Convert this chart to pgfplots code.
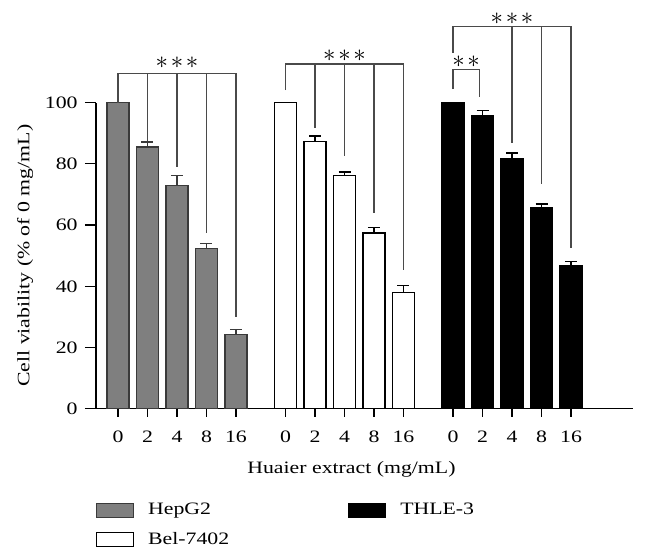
\documentclass[border=0pt]{standalone}
\usepackage{fontspec}
\setmainfont{Liberation Serif}[FakeStretch=1.25]
\usepackage{pgfplots}
\pgfplotsset{compat=1.18}
\definecolor{hepgray}{HTML}{7F7F7F}
\definecolor{hepedge}{HTML}{3A3A3A}
\definecolor{brk}{HTML}{4A4A4A}
\newcommand{\stars}[1]{{\fontsize{25}{25}\selectfont$#1$}}
\begin{document}
\fontsize{17.5}{21}\selectfont
\begin{tikzpicture}
\begin{axis}[
 scale only axis, width=537.2bp, height=306.3bp,
 xmin=-0.75, xmax=17.46, ymin=0, ymax=100,
 axis x line*=bottom, axis y line*=left,
 axis line style={line width=1.3bp, -},
 clip=false,
 xtick={0,1,2,3,4,5.68,6.68,7.68,8.68,9.68,11.36,12.36,13.36,14.36,15.36},
 xticklabels={0,2,4,8,16,0,2,4,8,16,0,2,4,8,16},
 ytick={0,20,...,100},
 tick align=outside,
 xtick style={line width=1.3bp, black, /pgfplots/major tick length=8bp},
 ytick style={line width=1.3bp, black, /pgfplots/major tick length=11bp},
 xticklabel style={yshift=-12bp},
 yticklabel style={xshift=-8bp},
 /pgf/number format/assume math mode=true,
 xlabel={Huaier extract (mg/mL)},
 xlabel style={yshift=-7bp, xshift=-13bp},
 ylabel={Cell viability (\% of 0 mg/mL)},
 ylabel shift=0bp,
 legend columns=2, transpose legend,
 legend style={draw=none, fill=none, inner sep=0pt, outer sep=0pt,
   at={(axis cs:-0.746,-30.7)}, anchor=north west,
   /tikz/column sep=14bp, /tikz/row sep=14bp,
   nodes={inner sep=0pt, text width=186bp, align=left}},
 legend image code/.code={\draw[#1,line width=1.2bp] (0bp,-7bp) rectangle (37bp,7bp);},
 error bars/y dir=plus, error bars/y explicit,
]
\addplot[ybar, bar shift=0pt, bar width=22bp, fill=hepgray, draw=hepedge, line width=1.2bp,
  error bars/error bar style={line width=1.3bp, hepedge},
  error bars/error mark options={rotate=90, mark size=6bp, line width=1.3bp, hepedge}]
 coordinates {(0,100) +- (0,0) (1,85.5) +- (0,1.6) (2,73.0) +- (0,3.1) (3,52.3) +- (0,1.7) (4,24.2) +- (0,1.6)};
\addlegendentry{HepG2}
\addplot[ybar, bar shift=0pt, bar width=22bp, fill=white, draw=black, line width=1.2bp,
  error bars/error bar style={line width=1.3bp, black},
  error bars/error mark options={rotate=90, mark size=6bp, line width=1.3bp, black}]
 coordinates {(5.68,100) +- (0,0) (6.68,87.4) +- (0,1.7) (7.68,76.1) +- (0,1.2) (8.68,57.4) +- (0,1.8) (9.68,38.0) +- (0,2.3)};
\addlegendentry{Bel-7402}
\addplot[ybar, bar shift=0pt, bar width=22bp, fill=black, draw=black, line width=1.2bp,
  error bars/error bar style={line width=1.3bp, black},
  error bars/error mark options={rotate=90, mark size=6bp, line width=1.3bp, black}]
 coordinates {(11.36,100) +- (0,0) (12.36,95.7) +- (0,1.7) (13.36,81.6) +- (0,1.9) (14.36,65.7) +- (0,1.2) (15.36,46.9) +- (0,1.3)};
\addlegendentry{THLE-3}
% significance brackets
\draw[brk, line width=1.2bp] (axis cs:0,100) -- (axis cs:0,109.6) -- (axis cs:4,109.6) -- (axis cs:4,30.1);
\draw[brk, line width=1.2bp] (axis cs:1,109.6) -- (axis cs:1,87.3);
\draw[brk, line width=1.2bp] (axis cs:2,109.6) -- (axis cs:2,79.1);
\draw[brk, line width=1.2bp] (axis cs:3,109.6) -- (axis cs:3,57.4);
\node at (axis cs:2,113.0) {\stars{{\ast}\mkern2mu{\ast}\mkern2mu{\ast}}};
\draw[brk, line width=1.2bp] (axis cs:5.68,104.1) -- (axis cs:5.68,112.6) -- (axis cs:9.68,112.6) -- (axis cs:9.68,45.2);
\draw[brk, line width=1.2bp] (axis cs:6.68,112.6) -- (axis cs:6.68,91.6);
\draw[brk, line width=1.2bp] (axis cs:7.68,112.6) -- (axis cs:7.68,82.6);
\draw[brk, line width=1.2bp] (axis cs:8.68,112.6) -- (axis cs:8.68,63.9);
\node at (axis cs:7.68,115.2) {\stars{{\ast}\mkern2mu{\ast}\mkern2mu{\ast}}};
\draw[brk, line width=1.2bp] (axis cs:11.36,116.3) -- (axis cs:11.36,124.8) -- (axis cs:15.36,124.8) -- (axis cs:15.36,52.5);
\draw[brk, line width=1.2bp] (axis cs:13.36,124.8) -- (axis cs:13.36,86.9);
\draw[brk, line width=1.2bp] (axis cs:14.36,124.8) -- (axis cs:14.36,73.5);
\node at (axis cs:13.36,127.4) {\stars{{\ast}\mkern2mu{\ast}\mkern2mu{\ast}}};
\draw[brk, line width=1.2bp] (axis cs:11.36,104.4) -- (axis cs:11.36,110.7) -- (axis cs:12.25,110.7) -- (axis cs:12.25,101.8);
\node at (axis cs:11.8,113.3) {\stars{{\ast}\mkern2mu{\ast}}};
\coordinate (bbl) at (axis cs:-4.0,-48.97);
\coordinate (btr) at (axis cs:17.97,133.5);
\end{axis}
\pgfresetboundingbox
\useasboundingbox (bbl) rectangle (btr);
\end{tikzpicture}
\end{document}
